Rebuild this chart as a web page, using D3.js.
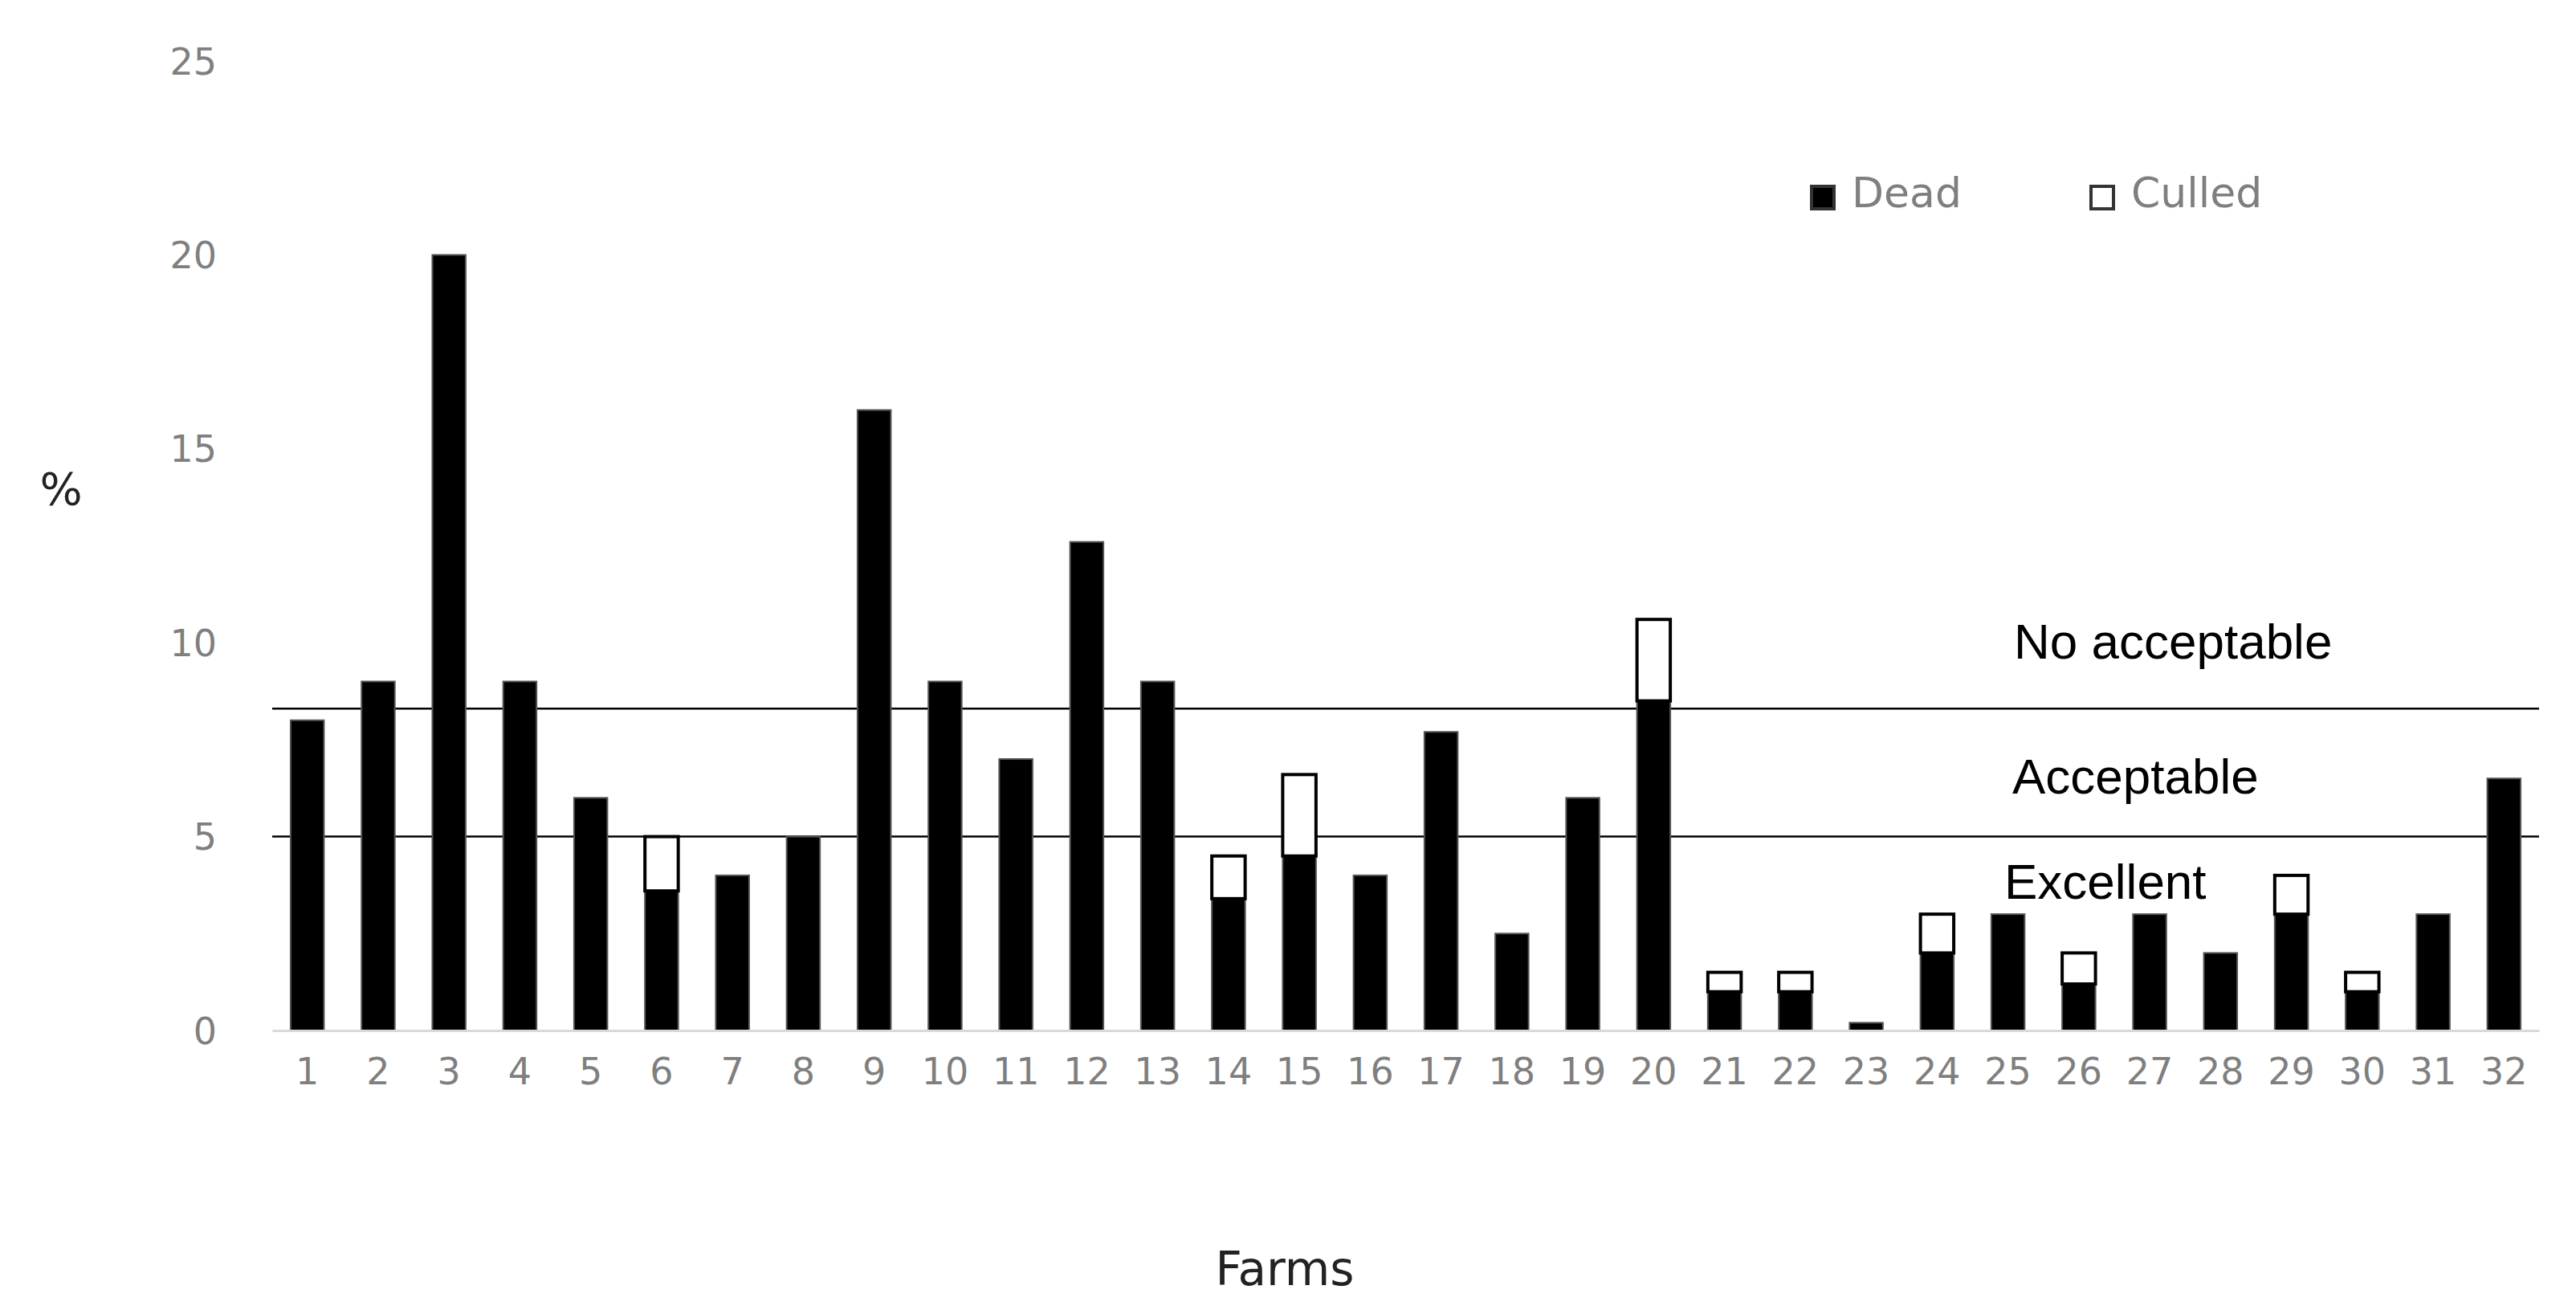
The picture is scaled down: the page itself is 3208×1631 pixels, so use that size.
<!DOCTYPE html>
<html><head><meta charset="utf-8">
<script src="https://cdn.jsdelivr.net/npm/d3@7"></script>
<style>body{margin:0;background:#fff}</style>
</head><body>
<svg id="c" width="3208" height="1631"></svg>
<script>
const farms = d3.range(1,33).map(String);
const dead =   [8,9,20,9,6,3.6,4,5,16,9,7,12.6,9,3.4,4.5,4,7.7,2.5,6,8.5,1,1,0.2,2,3,1.2,3,2,3,1,3,6.5];
const culled = [0,0,0,0,0,1.4,0,0,0,0,0,0,0,1.1,2.1,0,0,0,0,2.1,0.5,0.5,0,1,0,0.8,0,0,1,0.5,0,0];
const yTicks = [0,5,10,15,20,25];
const thresholds = [8.3,5];
const zoneLabels = [{t:"No acceptable",v:9.6},{t:"Acceptable",v:6.1},{t:"Excellent",v:3.4}];

const svg = d3.select("#c");
const x = d3.scaleBand().domain(farms).range([339,3162]).paddingInner(0.53).paddingOuter(0.26);
const y = d3.scaleLinear().domain([0,25]).range([1283,76]);

// y axis labels
svg.append("g").attr("transform","translate(270,0)")
  .call(d3.axisLeft(y).tickValues(yTicks).tickSize(0).tickPadding(0))
  .call(g=>g.select(".domain").remove())
  .selectAll("text").attr("font-family","DejaVu Sans").attr("font-size",46).attr("fill","#7f7f7f").attr("dy","0.35em");

// threshold lines
svg.selectAll(".th").data(thresholds).join("line")
  .attr("x1",339).attr("x2",3162).attr("y1",d=>y(d)).attr("y2",d=>y(d))
  .attr("stroke","#000").attr("stroke-width",2.5);

// bars
svg.selectAll(".dead").data(farms).join("rect")
  .attr("x",d=>x(d)).attr("width",x.bandwidth())
  .attr("y",(d,i)=>y(dead[i])).attr("height",(d,i)=>y(0)-y(dead[i]))
  .attr("fill","#000").attr("stroke","#555").attr("stroke-width",2);
svg.selectAll(".cul").data(farms.filter((d,i)=>culled[i]>0)).join("rect")
  .attr("x",d=>x(d)).attr("width",x.bandwidth())
  .attr("y",d=>{const i=+d-1;return y(dead[i]+culled[i]);})
  .attr("height",d=>{const i=+d-1;return y(dead[i])-y(dead[i]+culled[i]);})
  .attr("fill","#fff").attr("stroke","#000").attr("stroke-width",4);

// x axis
svg.append("g").attr("transform",`translate(0,${y(0)})`)
  .call(d3.axisBottom(x).tickSize(0).tickPadding(34))
  .call(g=>g.select(".domain").attr("stroke","#d9d9d9").attr("stroke-width",3))
  .selectAll("text").attr("font-family","DejaVu Sans").attr("font-size",46).attr("fill","#7f7f7f");

// zone labels
svg.selectAll(".zl").data(zoneLabels).join("text")
  .attr("x",(d,i)=>[2508,2506,2496][i]).attr("y",d=>y(d.v))
  .attr("font-family","Liberation Sans").attr("font-size",62).attr("fill","#000").text(d=>d.t);

// axis titles
svg.append("text").attr("x",76).attr("y",628).attr("text-anchor","middle")
  .attr("font-family","DejaVu Sans").attr("font-size",56).attr("fill","#222").text("%");
svg.append("text").attr("x",1600).attr("y",1600).attr("text-anchor","middle")
  .attr("font-family","DejaVu Sans").attr("font-size",58).attr("fill","#222").text("Farms");

// legend
const leg = [{t:"Dead",fill:"#000",x:2256},{t:"Culled",fill:"#fff",x:2604}];
const lg = svg.selectAll(".lg").data(leg).join("g").attr("transform",d=>`translate(${d.x},232)`);
lg.append("rect").attr("width",28).attr("height",28).attr("fill",d=>d.fill).attr("stroke","#333").attr("stroke-width",4);
lg.append("text").attr("x",50).attr("y",26).attr("font-family","DejaVu Sans").attr("font-size",52).attr("fill","#7f7f7f").text(d=>d.t);
</script>
</body></html>
